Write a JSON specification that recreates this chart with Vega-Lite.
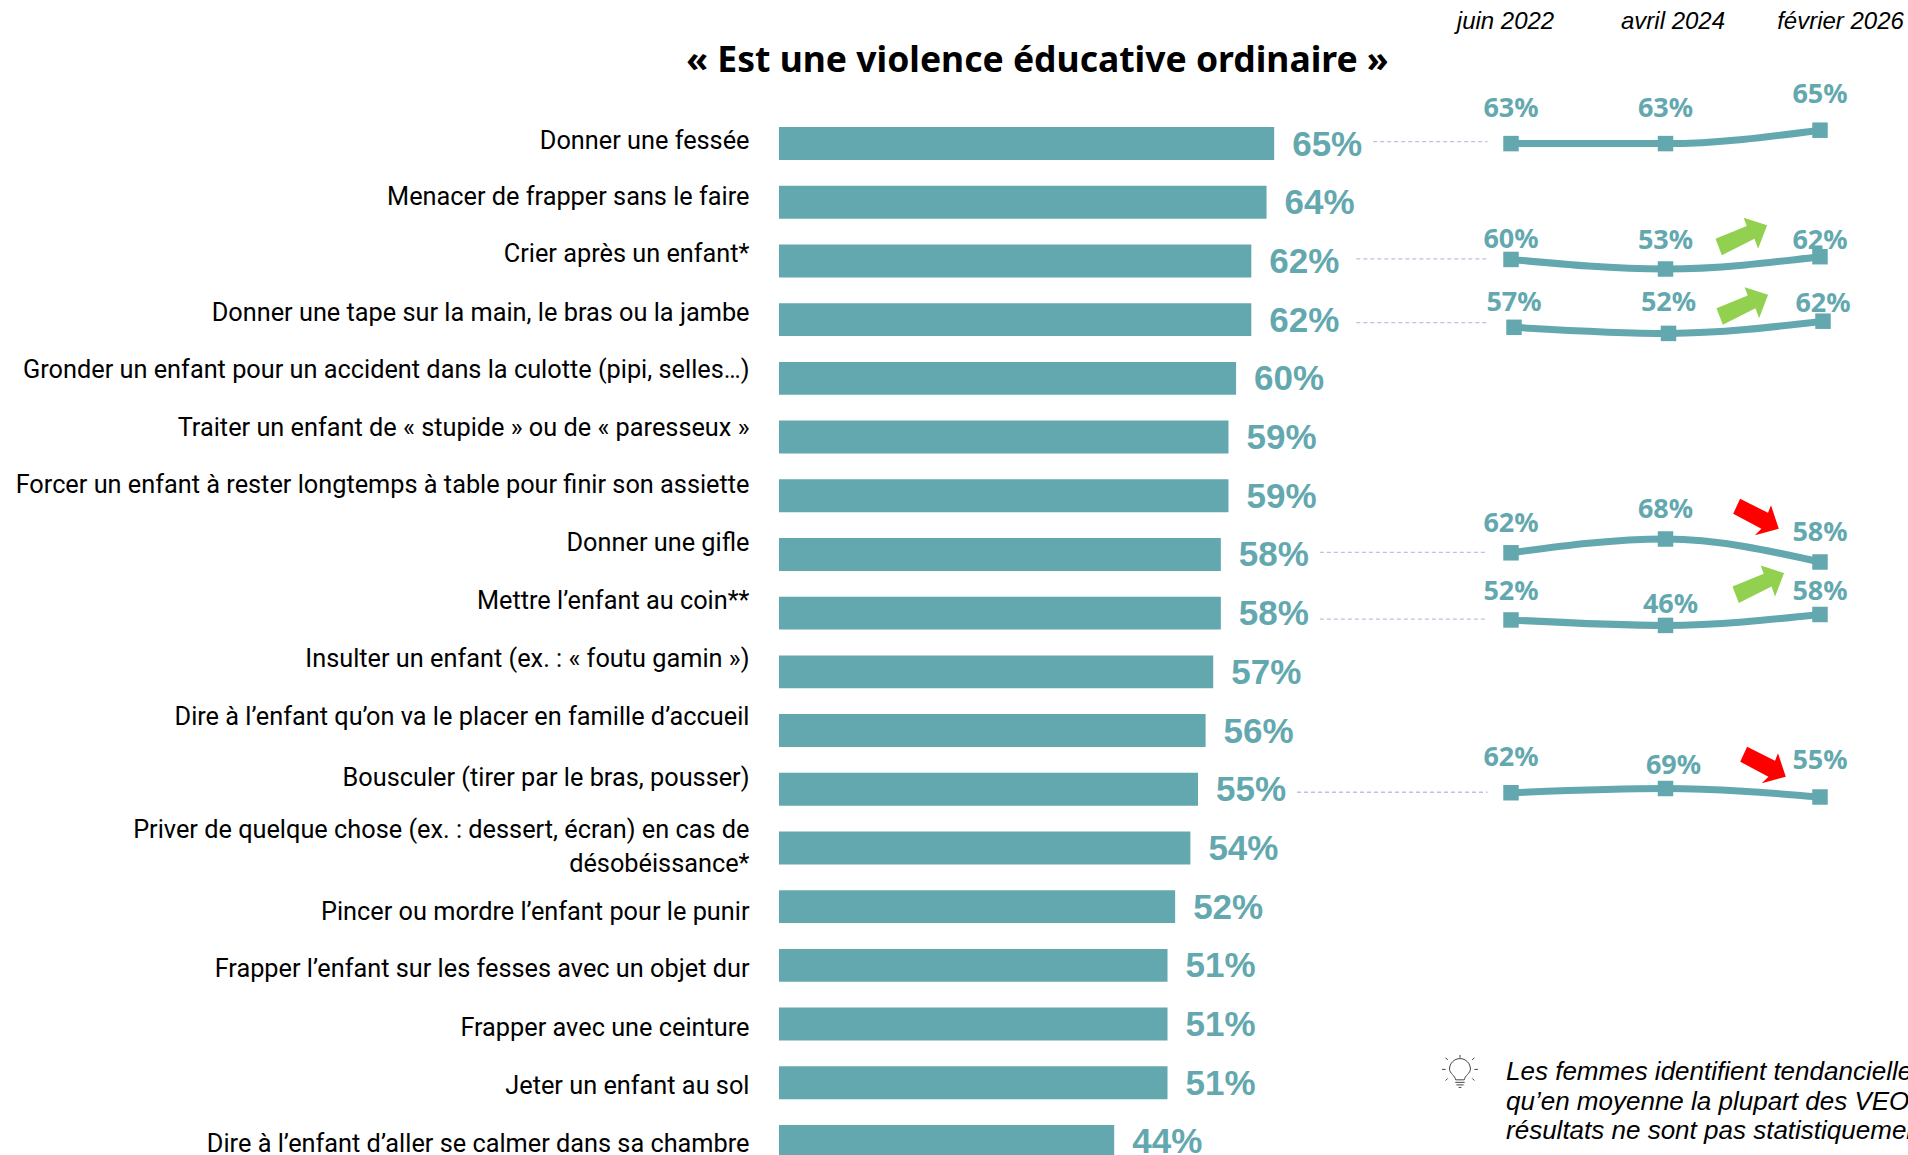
{
  "$schema": "https://vega.github.io/schema/vega-lite/v6.json",
  "width": 1129,
  "height": 1075,
  "autosize": {"type": "none"},
  "padding": {"left": 779, "top": 80, "right": 0, "bottom": 0},
  "background": "#ffffff",
  "config": {"view": {"stroke": null}},
  "title": {
    "text": "« Est une violence éducative ordinaire »",
    "anchor": "middle",
    "frame": "group",
    "dx": -306,
    "offset": -70,
    "font": "Noto Sans",
    "fontSize": 35.5,
    "fontWeight": "bold",
    "color": "#000000"
  },
  "datasets": {
    "barres": [
      {"libelle": "Donner une fessée", "valeur": 0.65, "suivi": true},
      {"libelle": "Menacer de frapper sans le faire", "valeur": 0.64, "suivi": false},
      {"libelle": "Crier après un enfant*", "valeur": 0.62, "suivi": true},
      {"libelle": "Donner une tape sur la main, le bras ou la jambe", "valeur": 0.62, "suivi": true},
      {"libelle": "Gronder un enfant pour un accident dans la culotte (pipi, selles…)", "valeur": 0.60, "suivi": false},
      {"libelle": "Traiter un enfant de « stupide » ou de « paresseux »", "valeur": 0.59, "suivi": false},
      {"libelle": "Forcer un enfant à rester longtemps à table pour finir son assiette", "valeur": 0.59, "suivi": false},
      {"libelle": "Donner une gifle", "valeur": 0.58, "suivi": true},
      {"libelle": "Mettre l’enfant au coin**", "valeur": 0.58, "suivi": true},
      {"libelle": "Insulter un enfant (ex. : « foutu gamin »)", "valeur": 0.57, "suivi": false},
      {"libelle": "Dire à l’enfant qu’on va le placer en famille d’accueil", "valeur": 0.56, "suivi": false},
      {"libelle": "Bousculer (tirer par le bras, pousser)", "valeur": 0.55, "suivi": true},
      {"libelle": "Priver de quelque chose (ex. : dessert, écran) en cas de|désobéissance*", "valeur": 0.54, "suivi": false},
      {"libelle": "Pincer ou mordre l’enfant pour le punir", "valeur": 0.52, "suivi": false},
      {"libelle": "Frapper l’enfant sur les fesses avec un objet dur", "valeur": 0.51, "suivi": false},
      {"libelle": "Frapper avec une ceinture", "valeur": 0.51, "suivi": false},
      {"libelle": "Jeter un enfant au sol", "valeur": 0.51, "suivi": false},
      {"libelle": "Dire à l’enfant d’aller se calmer dans sa chambre", "valeur": 0.44, "suivi": false}
    ],
    "evolutions": [
      {"serie": "fessee", "vague": "juin 2022", "valeur": 0.63},
      {"serie": "fessee", "vague": "avril 2024", "valeur": 0.63},
      {"serie": "fessee", "vague": "février 2026", "valeur": 0.65},
      {"serie": "crier", "vague": "juin 2022", "valeur": 0.60},
      {"serie": "crier", "vague": "avril 2024", "valeur": 0.53},
      {"serie": "crier", "vague": "février 2026", "valeur": 0.62, "tendance": "hausse"},
      {"serie": "tape", "vague": "juin 2022", "valeur": 0.57},
      {"serie": "tape", "vague": "avril 2024", "valeur": 0.52},
      {"serie": "tape", "vague": "février 2026", "valeur": 0.62, "tendance": "hausse"},
      {"serie": "gifle", "vague": "juin 2022", "valeur": 0.62},
      {"serie": "gifle", "vague": "avril 2024", "valeur": 0.68},
      {"serie": "gifle", "vague": "février 2026", "valeur": 0.58, "tendance": "baisse"},
      {"serie": "coin", "vague": "juin 2022", "valeur": 0.52},
      {"serie": "coin", "vague": "avril 2024", "valeur": 0.46},
      {"serie": "coin", "vague": "février 2026", "valeur": 0.58, "tendance": "hausse"},
      {"serie": "bousculer", "vague": "juin 2022", "valeur": 0.62},
      {"serie": "bousculer", "vague": "avril 2024", "valeur": 0.69},
      {"serie": "bousculer", "vague": "février 2026", "valeur": 0.55, "tendance": "baisse"}
    ],
    "vagues": [
      {"vague": "juin 2022"},
      {"vague": "avril 2024"},
      {"vague": "février 2026"}
    ],
    "note": [
      {"rang": 1, "ligne": "Les femmes identifient tendanciellement"},
      {"rang": 2, "ligne": "qu’en moyenne la plupart des VEO"},
      {"rang": 3, "ligne": "résultats ne sont pas statistiquement"}
    ]
  },
  "resolve": {"scale": {"x": "independent", "y": "independent", "shape": "independent", "color": "independent"}},
  "layer": [
    {
      "data": {"name": "barres"},
      "encoding": {
        "y": {
          "field": "libelle",
          "type": "nominal",
          "sort": null,
          "title": null,
          "scale": {"type": "band", "range": [34.2, 1090.8], "paddingInner": 0.44, "paddingOuter": 0.22},
          "axis": {
            "domain": false,
            "ticks": false,
            "labelFont": "Roboto",
            "labelFontSize": 25.3,
            "labelColor": "#000000",
            "labelPadding": 30,
            "labelLimit": 800,
            "labelLineHeight": 34,
            "labelOffset": {"expr": "[-3, -5, -7, -7, -8, -9, -11, -11, -12, -13, -14, -11, -18, 5, 4, 4, 3, 3][round(datum.index * 17)]"},
            "labelExpr": "split(datum.label, '|')"
          }
        },
        "x": {
          "field": "valeur",
          "type": "quantitative",
          "title": null,
          "axis": null,
          "scale": {"domain": [0, 1.482], "range": [0, 1129], "nice": false, "zero": false}
        }
      },
      "layer": [
        {"mark": {"type": "bar", "color": "#64A8AF"}},
        {
          "mark": {
            "type": "text",
            "align": "left",
            "baseline": "middle",
            "dx": 18,
            "dy": 1,
            "font": "Liberation Sans",
            "fontWeight": "bold",
            "fontSize": 35,
            "color": "#64A8AF"
          },
          "encoding": {"text": {"field": "valeur", "type": "quantitative", "format": ".0%"}}
        },
        {
          "transform": [{"filter": "datum.suivi"}],
          "mark": {
            "type": "rule",
            "color": "#C8BCE0",
            "strokeWidth": 1.3,
            "strokeDash": [4, 3],
            "xOffset": {"expr": "datum.valeur == 0.62 ? 105 : 99"},
            "yOffset": {"expr": "indexof(datum.libelle, 'coin') >= 0 ? 6 : indexof(datum.libelle, 'tape') >= 0 || indexof(datum.libelle, 'Bousculer') >= 0 ? 3 : -2"}
          },
          "encoding": {"x2": {"datum": 0.93}}
        }
      ]
    },
    {
      "data": {"name": "vagues"},
      "mark": {"type": "point", "opacity": 0},
      "encoding": {
        "x": {
          "field": "vague",
          "type": "ordinal",
          "sort": null,
          "title": null,
          "scale": {"type": "point", "range": [726, 1061], "padding": 0},
          "axis": {
            "orient": "top",
            "domain": false,
            "ticks": false,
            "labelAngle": 0,
            "labelFont": "Liberation Sans",
            "labelFontStyle": "italic",
            "labelFontSize": 24,
            "labelColor": "#000000",
            "labelPadding": 47
          }
        }
      }
    },
    {
      "data": {"name": "evolutions"},
      "transform": [{"filter": "datum.serie == 'fessee'"}],
      "encoding": {
        "x": {"field": "vague", "type": "ordinal", "sort": null, "axis": null, "scale": {"type": "point", "range": [732, 1041], "padding": 0}},
        "y": {"field": "valeur", "type": "quantitative", "axis": null, "scale": {"domain": [0.63, 0.65], "range": [63.6, 50.2], "zero": false, "nice": false}}
      },
      "layer": [
        {"mark": {"type": "line", "color": "#64A8AF", "strokeWidth": 7, "interpolate": "monotone"}},
        {"mark": {"type": "point", "shape": "square", "filled": true, "size": 240, "opacity": 1, "color": "#64A8AF"}},
        {
          "mark": {"type": "text", "align": "center", "baseline": "middle", "dy": -35, "font": "Noto Sans", "fontWeight": "bold", "fontSize": 27, "color": "#64A8AF"},
          "encoding": {"text": {"field": "valeur", "type": "quantitative", "format": ".0%"}}
        }
      ]
    },
    {
      "data": {"name": "evolutions"},
      "transform": [{"filter": "datum.serie == 'crier'"}],
      "encoding": {
        "x": {"field": "vague", "type": "ordinal", "sort": null, "axis": null, "scale": {"type": "point", "range": [732, 1041], "padding": 0}},
        "y": {"field": "valeur", "type": "quantitative", "axis": null, "scale": {"domain": [0.53, 0.62], "range": [189, 176.7], "zero": false, "nice": false}}
      },
      "layer": [
        {"mark": {"type": "line", "color": "#64A8AF", "strokeWidth": 7, "interpolate": "monotone"}},
        {"mark": {"type": "point", "shape": "square", "filled": true, "size": 240, "opacity": 1, "color": "#64A8AF"}},
        {
          "mark": {"type": "text", "align": "center", "baseline": "middle", "dy": {"expr": "datum.vague == 'juin 2022' ? -19 : datum.vague == 'avril 2024' ? -28 : -16"}, "font": "Noto Sans", "fontWeight": "bold", "fontSize": 27, "color": "#64A8AF"},
          "encoding": {"text": {"field": "valeur", "type": "quantitative", "format": ".0%"}}
        },
        {
          "transform": [{"filter": "datum.tendance"}],
          "mark": {"type": "point", "filled": true, "size": 3600, "opacity": 1, "xOffset": -79, "yOffset": -20, "color": "#92D050", "shape": "M-.64,.62 L-.85,.07 L.19,-.36 L.09,-.63 L.87,-.38 L.57,.4 L.45,.07 Z"}
        }
      ]
    },
    {
      "data": {"name": "evolutions"},
      "transform": [{"filter": "datum.serie == 'tape'"}],
      "encoding": {
        "x": {"field": "vague", "type": "ordinal", "sort": null, "axis": null, "scale": {"type": "point", "range": [735, 1044], "padding": 0}},
        "y": {"field": "valeur", "type": "quantitative", "axis": null, "scale": {"domain": [0.52, 0.62], "range": [253.4, 241.2], "zero": false, "nice": false}}
      },
      "layer": [
        {"mark": {"type": "line", "color": "#64A8AF", "strokeWidth": 7, "interpolate": "monotone"}},
        {"mark": {"type": "point", "shape": "square", "filled": true, "size": 240, "opacity": 1, "color": "#64A8AF"}},
        {
          "mark": {"type": "text", "align": "center", "baseline": "middle", "dy": {"expr": "datum.vague == 'juin 2022' ? -24 : datum.vague == 'avril 2024' ? -30 : -17"}, "font": "Noto Sans", "fontWeight": "bold", "fontSize": 27, "color": "#64A8AF"},
          "encoding": {"text": {"field": "valeur", "type": "quantitative", "format": ".0%"}}
        },
        {
          "transform": [{"filter": "datum.tendance"}],
          "mark": {"type": "point", "filled": true, "size": 3600, "opacity": 1, "xOffset": -81, "yOffset": -15, "color": "#92D050", "shape": "M-.64,.62 L-.85,.07 L.19,-.36 L.09,-.63 L.87,-.38 L.57,.4 L.45,.07 Z"}
        }
      ]
    },
    {
      "data": {"name": "evolutions"},
      "transform": [{"filter": "datum.serie == 'gifle'"}],
      "encoding": {
        "x": {"field": "vague", "type": "ordinal", "sort": null, "axis": null, "scale": {"type": "point", "range": [732, 1041], "padding": 0}},
        "y": {"field": "valeur", "type": "quantitative", "axis": null, "scale": {"domain": [0.58, 0.68], "range": [482, 459], "zero": false, "nice": false}}
      },
      "layer": [
        {"mark": {"type": "line", "color": "#64A8AF", "strokeWidth": 7, "interpolate": "monotone"}},
        {"mark": {"type": "point", "shape": "square", "filled": true, "size": 240, "opacity": 1, "color": "#64A8AF"}},
        {
          "mark": {"type": "text", "align": "center", "baseline": "middle", "dy": -29, "font": "Noto Sans", "fontWeight": "bold", "fontSize": 27, "color": "#64A8AF"},
          "encoding": {"text": {"field": "valeur", "type": "quantitative", "format": ".0%"}}
        },
        {
          "transform": [{"filter": "datum.tendance"}],
          "mark": {"type": "point", "filled": true, "size": 3600, "opacity": 1, "xOffset": -64, "yOffset": -45, "color": "#FF0000", "shape": "M-.53,-.61 L.4,-.14 L.5,-.39 L.76,.39 L-.04,.61 L.18,.39 L-.76,-.11 Z"}
        }
      ]
    },
    {
      "data": {"name": "evolutions"},
      "transform": [{"filter": "datum.serie == 'coin'"}],
      "encoding": {
        "x": {"field": "vague", "type": "ordinal", "sort": null, "axis": null, "scale": {"type": "point", "range": [732, 1041], "padding": 0}},
        "y": {"field": "valeur", "type": "quantitative", "axis": null, "scale": {"domain": [0.46, 0.58], "range": [545.4, 534.5], "zero": false, "nice": false}}
      },
      "layer": [
        {"mark": {"type": "line", "color": "#64A8AF", "strokeWidth": 7, "interpolate": "monotone"}},
        {"mark": {"type": "point", "shape": "square", "filled": true, "size": 240, "opacity": 1, "color": "#64A8AF"}},
        {
          "mark": {"type": "text", "align": "center", "baseline": "middle", "dx": {"expr": "datum.vague == 'avril 2024' ? 5 : 0"}, "dy": {"expr": "datum.vague == 'juin 2022' ? -28 : datum.vague == 'avril 2024' ? -20 : -23"}, "font": "Noto Sans", "fontWeight": "bold", "fontSize": 27, "color": "#64A8AF"},
          "encoding": {"text": {"field": "valeur", "type": "quantitative", "format": ".0%"}}
        },
        {
          "transform": [{"filter": "datum.tendance"}],
          "mark": {"type": "point", "filled": true, "size": 3600, "opacity": 1, "xOffset": -62, "yOffset": -30, "color": "#92D050", "shape": "M-.64,.62 L-.85,.07 L.19,-.36 L.09,-.63 L.87,-.38 L.57,.4 L.45,.07 Z"}
        }
      ]
    },
    {
      "data": {"name": "evolutions"},
      "transform": [{"filter": "datum.serie == 'bousculer'"}],
      "encoding": {
        "x": {"field": "vague", "type": "ordinal", "sort": null, "axis": null, "scale": {"type": "point", "range": [732, 1041], "padding": 0}},
        "y": {"field": "valeur", "type": "quantitative", "axis": null, "scale": {"domain": [0.55, 0.69], "range": [717, 708.5], "zero": false, "nice": false}}
      },
      "layer": [
        {"mark": {"type": "line", "color": "#64A8AF", "strokeWidth": 7, "interpolate": "monotone"}},
        {"mark": {"type": "point", "shape": "square", "filled": true, "size": 240, "opacity": 1, "color": "#64A8AF"}},
        {
          "mark": {"type": "text", "align": "center", "baseline": "middle", "dx": {"expr": "datum.vague == 'avril 2024' ? 8 : 0"}, "dy": {"expr": "datum.vague == 'juin 2022' ? -35 : datum.vague == 'avril 2024' ? -23 : -36"}, "font": "Noto Sans", "fontWeight": "bold", "fontSize": 27, "color": "#64A8AF"},
          "encoding": {"text": {"field": "valeur", "type": "quantitative", "format": ".0%"}}
        },
        {
          "transform": [{"filter": "datum.tendance"}],
          "mark": {"type": "point", "filled": true, "size": 3600, "opacity": 1, "xOffset": -57, "yOffset": -32, "color": "#FF0000", "shape": "M-.53,-.61 L.4,-.14 L.5,-.39 L.76,.39 L-.04,.61 L.18,.39 L-.76,-.11 Z"}
        }
      ]
    },
    {
      "data": {"name": "note"},
      "encoding": {
        "y": {"field": "rang", "type": "quantitative", "axis": null, "scale": {"domain": [1, 3], "range": [992, 1051], "zero": false, "nice": false}}
      },
      "layer": [
        {
          "mark": {"type": "text", "align": "left", "baseline": "middle", "font": "Liberation Sans", "fontStyle": "italic", "fontSize": 26, "color": "#000000"},
          "encoding": {
            "x": {"datum": 0.9566, "type": "quantitative", "axis": null, "scale": {"domain": [0, 1.4855], "range": [0, 1129], "nice": false, "zero": false}},
            "text": {"field": "ligne"}
          }
        },
        {
          "transform": [{"filter": "datum.rang == 1"}],
          "mark": {
            "type": "point",
            "size": 1296,
            "opacity": 1,
            "filled": false,
            "stroke": "#444444",
            "strokeWidth": 1,
            "yOffset": 1,
            "shape": "M-.24,.38 C-.26,.15 -.58,.02 -.58,-.22 A.58,.58 0 1 1 .58,-.22 C.58,.02 .26,.15 .24,.38 Z M-.26,.52 H.26 M-.2,.66 H.2 M-.08,.8 H.08 M0,-1 V-.85 M-.68,-.72 L-.8,-.85 M.68,-.72 L.8,-.85 M-1,-.2 H-.8 M.8,-.2 H1 M-.68,.3 L-.8,.42 M.68,.3 L.8,.42"
          },
          "encoding": {
            "x": {"datum": 0.896, "type": "quantitative", "axis": null, "scale": {"domain": [0, 1.4855], "range": [0, 1129], "nice": false, "zero": false}}
          }
        }
      ]
    }
  ]
}
